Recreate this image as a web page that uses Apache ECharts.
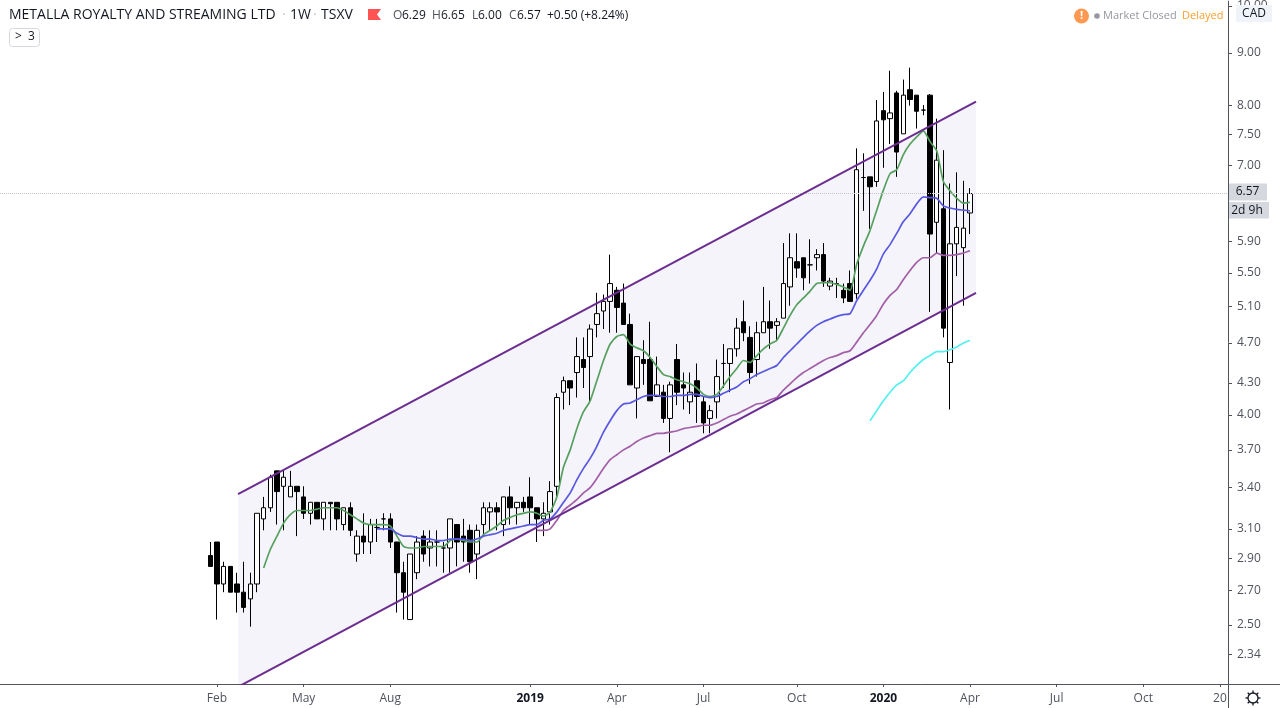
<!DOCTYPE html>
<html>
<head>
<meta charset="utf-8">
<title>METALLA ROYALTY AND STREAMING LTD</title>
<style>
html,body{margin:0;padding:0;background:#fff;}
#chart{width:1280px;height:708px;}
</style>
<script src="https://cdn.jsdelivr.net/npm/echarts@6/dist/echarts.min.js"></script>
</head>
<body>
<div id="chart"></div>
<script>
// weekly candles, [open, close, low, high]
var candles = [
[2.92,2.85,2.85,3.01],[3.01,2.74,2.53,3.01],[2.74,2.85,2.69,2.88],[2.85,2.69,2.69,2.85],[2.74,2.69,2.57,2.81],
[2.69,2.60,2.57,2.88],[2.65,2.74,2.49,2.81],[2.74,3.21,2.69,3.21],[3.17,3.25,3.09,3.33],[3.25,3.48,3.22,3.50],
[3.53,3.37,3.13,3.53],[3.41,3.48,3.09,3.53],[3.33,3.41,3.33,3.53],[3.41,3.37,3.05,3.41],[3.33,3.21,3.17,3.41],
[3.21,3.29,3.13,3.29],[3.29,3.17,3.17,3.29],[3.17,3.29,3.09,3.29],[3.29,3.28,3.09,3.29],[3.29,3.17,3.09,3.29],
[3.13,3.25,3.09,3.25],[3.25,3.09,3.05,3.29],[2.93,3.05,2.88,3.09],[3.05,3.01,2.93,3.21],[3.01,3.13,2.93,3.17],
[3.11,3.11,3.01,3.17],[3.17,3.17,3.09,3.21],[3.17,3.01,2.97,3.21],[3.01,2.81,2.57,3.01],[2.81,2.69,2.53,2.88],
[2.53,2.93,2.53,2.93],[2.81,3.01,2.77,3.05],[3.05,2.93,2.88,3.09],[2.97,3.01,2.85,3.09],[3.01,3.01,2.85,3.09],
[2.97,2.97,2.81,3.01],[2.97,3.17,2.81,3.17],[3.13,3.01,2.85,3.13],[3.05,3.01,2.88,3.17],[3.09,2.88,2.81,3.13],
[2.93,3.09,2.77,3.13],[3.13,3.25,3.05,3.29],[3.22,3.25,3.09,3.29],[3.25,3.22,3.09,3.29],[3.13,3.33,3.05,3.33],
[3.33,3.25,3.13,3.41],[3.25,3.29,3.13,3.29],[3.29,3.25,3.22,3.33],[3.33,3.25,3.13,3.48],[3.25,3.17,3.01,3.25],
[3.17,3.21,3.05,3.29],[3.22,3.37,3.13,3.45],[3.41,4.16,3.33,4.20],[4.21,4.32,4.05,4.36],[4.32,4.25,4.09,4.32],
[4.40,4.56,4.16,4.76],[4.53,4.45,4.25,4.76],[4.56,4.85,4.12,4.90],[4.90,5.02,4.76,5.26],[5.05,5.16,4.85,5.24],
[5.16,5.37,4.81,5.73],[5.29,5.09,4.81,5.33],[5.14,4.90,4.90,5.37],[4.90,4.28,4.28,5.02],[4.25,4.56,3.97,4.56],
[4.53,4.49,4.28,4.73],[4.53,4.13,4.13,4.93],[4.17,4.28,4.17,4.56],[4.21,3.97,3.93,4.28],[3.97,4.28,3.68,4.31],
[4.53,4.21,4.09,4.69],[4.28,4.25,4.05,4.40],[4.12,4.21,4.01,4.40],[4.32,4.17,3.93,4.49],[4.12,3.93,3.84,4.17],
[3.97,4.04,3.84,4.09],[4.12,4.36,3.97,4.53],[4.49,4.49,4.25,4.69],[4.49,4.64,4.21,4.64],[4.64,4.86,4.56,4.97],
[4.93,4.81,4.72,5.17],[4.76,4.40,4.29,4.88],[4.53,4.81,4.36,4.93],[4.81,4.93,4.81,5.33],[4.93,4.86,4.64,5.17],
[4.89,4.93,4.72,4.97],[4.97,5.37,4.97,5.88],[5.33,5.69,5.11,6.01],[5.64,5.56,5.44,6.01],[5.69,5.44,5.29,5.69],
[5.60,5.60,5.37,5.93],[5.69,5.73,5.53,5.80],[5.73,5.40,5.33,5.88],[5.34,5.40,5.29,5.44],[5.37,5.37,5.20,5.44],
[5.29,5.20,5.14,5.37],[5.37,5.16,5.16,5.53],[5.25,6.93,5.19,7.27],[6.81,6.81,6.32,7.19],[6.82,6.67,6.07,6.82],
[6.75,7.73,6.67,8.10],[7.91,7.75,6.96,8.25],[7.77,7.87,7.34,8.65],[8.23,7.21,6.82,8.27],[7.51,8.19,7.51,8.48],
[8.29,8.11,8.00,8.71],[8.19,7.90,7.60,8.19],[7.92,7.92,7.83,8.01],[8.19,6.00,5.04,8.21],[6.16,7.08,5.75,7.77],
[6.35,4.86,4.76,7.24],[4.50,5.87,4.05,6.72],[5.87,6.09,5.46,6.89],[5.82,6.08,5.11,6.76],[6.29,6.57,6.00,6.65]
];

// moving averages, first value sits on the candle given by the *Start number
var greenStart = 8;
var greenMa = [2.84,2.96,3.05,3.14,3.20,3.23,3.23,3.23,3.24,3.25,3.25,3.25,3.23,3.20,3.17,3.14,3.13,3.13,3.13,3.12,
3.05,2.98,2.97,2.97,2.98,2.98,2.98,2.98,3.02,3.03,3.02,3.01,3.01,3.06,3.09,3.12,3.16,3.18,3.20,3.21,
3.22,3.21,3.19,3.22,3.33,3.56,3.70,3.88,4.03,4.13,4.32,4.52,4.69,4.77,4.79,4.69,4.65,4.62,4.55,4.46,
4.38,4.36,4.33,4.31,4.29,4.25,4.19,4.17,4.19,4.27,4.36,4.44,4.52,4.50,4.57,4.64,4.69,4.73,4.86,5.00,
5.12,5.20,5.28,5.37,5.38,5.38,5.36,5.33,5.29,5.61,5.84,6.05,6.33,6.62,6.87,6.93,7.17,7.34,7.46,7.56,
7.38,7.23,6.75,6.61,6.50,6.43,6.44];
var blueStart = 25;
var blueMa = [3.10,3.10,3.10,3.07,3.05,3.05,3.04,3.03,3.03,3.02,3.02,3.03,3.03,3.03,3.02,3.03,3.05,3.06,3.07,3.09,
3.10,3.11,3.12,3.13,3.13,3.16,3.17,3.22,3.29,3.36,3.46,3.55,3.63,3.73,3.85,3.95,4.04,4.10,4.11,4.14,
4.17,4.18,4.18,4.17,4.17,4.18,4.18,4.19,4.19,4.17,4.16,4.17,4.20,4.23,4.26,4.31,4.34,4.38,4.41,4.44,
4.47,4.55,4.62,4.69,4.76,4.83,4.89,4.93,4.96,4.99,5.01,5.02,5.17,5.29,5.41,5.55,5.74,5.86,6.01,6.17,
6.28,6.42,6.52,6.51,6.50,6.39,6.36,6.34,6.33,6.32];
var purpleStart = 49;
var purpleMa = [3.09,3.09,3.10,3.16,3.23,3.27,3.31,3.36,3.40,3.47,3.55,3.62,3.66,3.70,3.73,3.77,3.80,3.82,3.84,3.84,
3.85,3.86,3.88,3.89,3.90,3.91,3.91,3.93,3.96,3.99,4.01,4.04,4.07,4.10,4.11,4.14,4.16,4.23,4.29,4.35,
4.40,4.44,4.48,4.52,4.55,4.57,4.60,4.62,4.71,4.81,4.90,5.00,5.13,5.23,5.30,5.42,5.53,5.63,5.69,5.69,
5.75,5.72,5.72,5.73,5.75,5.78];
var cyanStart = 99;
var cyanMa = [3.95,4.04,4.13,4.21,4.28,4.32,4.40,4.47,4.53,4.57,4.61,4.61,4.63,4.66,4.70,4.73];

// channel drawn on the chart: ends at candle numbers channelEnds
var channelEnds = [4.16, 114.9];
var channelTop = [3.35, 8.07];
var channelBottom = [2.176, 5.26];

var lastPrice = 6.57;
var priceTicks = [2.34,2.5,2.7,2.9,3.1,3.4,3.7,4,4.3,4.7,5.1,5.5,5.9,7,7.5,8,9,10];
var timeTicks = [1,14,27,48,61,74,88,101,114,127,140,151.5];
var timeLabels = ['Feb','May','Aug','2019','Apr','Jul','Oct','2020','Apr','Jul','Oct','20'];

var uiFont = '"Open Sans", sans-serif';
var axisGray = '#50535e';

function toPairs(start, values){
  return values.map(function(v, i){ return [start + i, v]; });
}

function maLine(start, values, color){
  return {
    type: 'line',
    data: toPairs(start, values),
    showSymbol: false,
    smooth: 0.2,
    silent: true,
    z: 4,
    lineStyle: {color: color, width: 1.7}
  };
}

function channelLine(values){
  return {
    type: 'line',
    data: [[channelEnds[0], values[0]], [channelEnds[1], values[1]]],
    showSymbol: false,
    silent: true,
    z: 5,
    lineStyle: {color: '#6b2d8f', width: 2}
  };
}

// little text helper for the header and the price tags
function txt(x, y, text, size, color, extra){
  var style = {x: x, y: y, text: text, fontSize: size, fontFamily: uiFont, fill: color, textVerticalAlign: 'middle'};
  for (var k in (extra || {})) style[k] = extra[k];
  return {type: 'text', z: 101, silent: true, style: style};
}
function box(x, y, w, h, fill, stroke, r){
  return {type: 'rect', z: 100, silent: true, shape: {x: x, y: y, width: w, height: h, r: r || 0},
    style: {fill: fill, stroke: stroke || null, lineWidth: 1}};
}

var gearRays = [0,1,2,3,4,5,6,7].map(function(n){
  var a = n * Math.PI / 4;
  return {type: 'line', z: 101, silent: true,
    shape: {x1: 1253 + 5 * Math.cos(a), y1: 698 + 5 * Math.sin(a), x2: 1253 + 7.5 * Math.cos(a), y2: 698 + 7.5 * Math.sin(a)},
    style: {stroke: '#131722', lineWidth: 1.3}};
});

var option = {
  animation: false,
  backgroundColor: '#ffffff',
  grid: {left: 0, right: 52, top: 0, bottom: 24},
  xAxis: {
    type: 'value',
    min: -31.56,
    max: 152.71,
    splitLine: {show: false},
    axisLine: {show: true, onZero: false, lineStyle: {color: axisGray, width: 1}},
    axisTick: {show: true, length: 3, inside: false, customValues: timeTicks, lineStyle: {color: axisGray}},
    axisLabel: {
      customValues: timeTicks,
      margin: 9,
      fontFamily: uiFont,
      fontSize: 12,
      color: axisGray,
      hideOverlap: false,
      formatter: function(v){
        var s = timeLabels[timeTicks.indexOf(v)];
        return s.length === 4 ? '{y|' + s + '}' : s;
      },
      rich: {y: {fontWeight: 'bold', fontFamily: uiFont, fontSize: 12, color: '#131722'}}
    }
  },
  yAxis: {
    type: 'log',
    logBase: 10,
    position: 'right',
    min: 2.19,
    max: 10.11,
    splitLine: {show: false},
    axisLine: {show: true, onZero: false, lineStyle: {color: axisGray, width: 1}},
    axisTick: {show: true, length: 4, customValues: priceTicks, lineStyle: {color: axisGray}},
    axisLabel: {
      customValues: priceTicks,
      margin: 9,
      fontFamily: uiFont,
      fontSize: 12,
      color: axisGray,
      formatter: function(v){ return Number(v).toFixed(2); }
    }
  },
  series: [
    {
      type: 'custom',
      silent: true,
      clip: true,
      z: 1,
      data: [[channelEnds[0], channelTop[0]]],
      renderItem: function(params, api){
        var pts = [
          api.coord([channelEnds[0], channelTop[0]]),
          api.coord([channelEnds[1], channelTop[1]]),
          api.coord([channelEnds[1], channelBottom[1]]),
          api.coord([channelEnds[0], channelBottom[0]])
        ];
        return {type: 'polygon', shape: {points: pts}, style: {fill: '#f6f4fb'}};
      }
    },
    {
      type: 'candlestick',
      silent: true,
      z: 3,
      barWidth: 5,
      encode: {x: 0, y: [1, 2, 3, 4]},
      data: candles.map(function(c, i){ return [i, c[0], c[1], c[2], c[3]]; }),
      itemStyle: {color: '#ffffff', color0: '#000000', borderColor: '#000000', borderColor0: '#000000', borderWidth: 1},
      markLine: {
        silent: true,
        symbol: 'none',
        animation: false,
        label: {show: false},
        lineStyle: {color: '#c4c6cc', type: 'dotted', width: 1},
        data: [{yAxis: lastPrice}]
      }
    },
    maLine(greenStart, greenMa, '#55a05f'),
    maLine(blueStart, blueMa, '#5858e0'),
    maLine(purpleStart, purpleMa, '#a25fa8'),
    maLine(cyanStart, cyanMa, '#55f0f0'),
    channelLine(channelTop),
    channelLine(channelBottom)
  ],
  graphic: [].concat([
    // extensions of the two axis lines past the grid
    {type: 'line', z: 99, silent: true, shape: {x1: 1228, y1: 684.5, x2: 1280, y2: 684.5}, style: {stroke: axisGray, lineWidth: 1}},
    {type: 'line', z: 99, silent: true, shape: {x1: 1228.5, y1: 684, x2: 1228.5, y2: 708}, style: {stroke: axisGray, lineWidth: 1}},

    txt(9, 15, 'METALLA ROYALTY AND STREAMING LTD', 14, '#131722'),
    txt(282, 15, '·', 14, '#c4c6cc'),
    txt(290, 15, '1W', 14, '#131722'),
    txt(313, 15, '·', 14, '#c4c6cc'),
    txt(321, 15, 'TSXV', 14, '#131722'),
    {type: 'polygon', z: 100, silent: true, shape: {points: [[368,9],[381,9],[377,14.5],[381,20],[368,20]]}, style: {fill: '#ff5252'}},
    txt(393, 16, 'O', 12, '#50535e'),
    txt(402, 16, '6.29', 12, '#131722'),
    txt(432, 16, 'H', 12, '#50535e'),
    txt(441, 16, '6.65', 12, '#131722'),
    txt(472, 16, 'L', 12, '#50535e'),
    txt(478, 16, '6.00', 12, '#131722'),
    txt(509, 16, 'C', 12, '#50535e'),
    txt(517, 16, '6.57', 12, '#131722'),
    txt(547, 16, '+0.50 (+8.24%)', 12, '#131722'),

    box(9.5, 28.5, 30, 18, '#ffffff', '#d6d8e0', 3),
    txt(15, 37, '>', 12, '#131722'),
    txt(28, 37, '3', 12, '#131722'),

    {type: 'circle', z: 100, silent: true, shape: {cx: 1081.5, cy: 16, r: 7.5}, style: {fill: '#ff9850'}},
    txt(1081.5, 16, '!', 11, '#ffffff', {textAlign: 'center', fontWeight: 'bold'}),
    {type: 'circle', z: 100, silent: true, shape: {cx: 1097, cy: 16, r: 2.8}, style: {fill: '#9598a1'}},
    txt(1103, 16, 'Market Closed', 11, '#9598a1'),
    txt(1182, 16, 'Delayed', 11, '#ff9f2e'),

    box(1236, 5, 36, 17, '#f0f3fa'),
    txt(1254, 13.5, 'CAD', 12, '#131722', {textAlign: 'center'}),
    box(1229, 183.5, 38, 17, '#d6d8e0'),
    txt(1247.5, 192, '6.57', 12, '#131722', {textAlign: 'center'}),
    box(1229, 202, 40, 16.5, '#d6d8e0'),
    txt(1247, 210.5, '2d 9h', 12, '#131722', {textAlign: 'center'}),

    {type: 'circle', z: 101, silent: true, shape: {cx: 1253, cy: 698, r: 5}, style: {fill: 'none', stroke: '#131722', lineWidth: 1.3}}
  ], gearRays)
};

var myChart = echarts.init(document.getElementById('chart'));
myChart.setOption(option);
</script>
</body>
</html>
